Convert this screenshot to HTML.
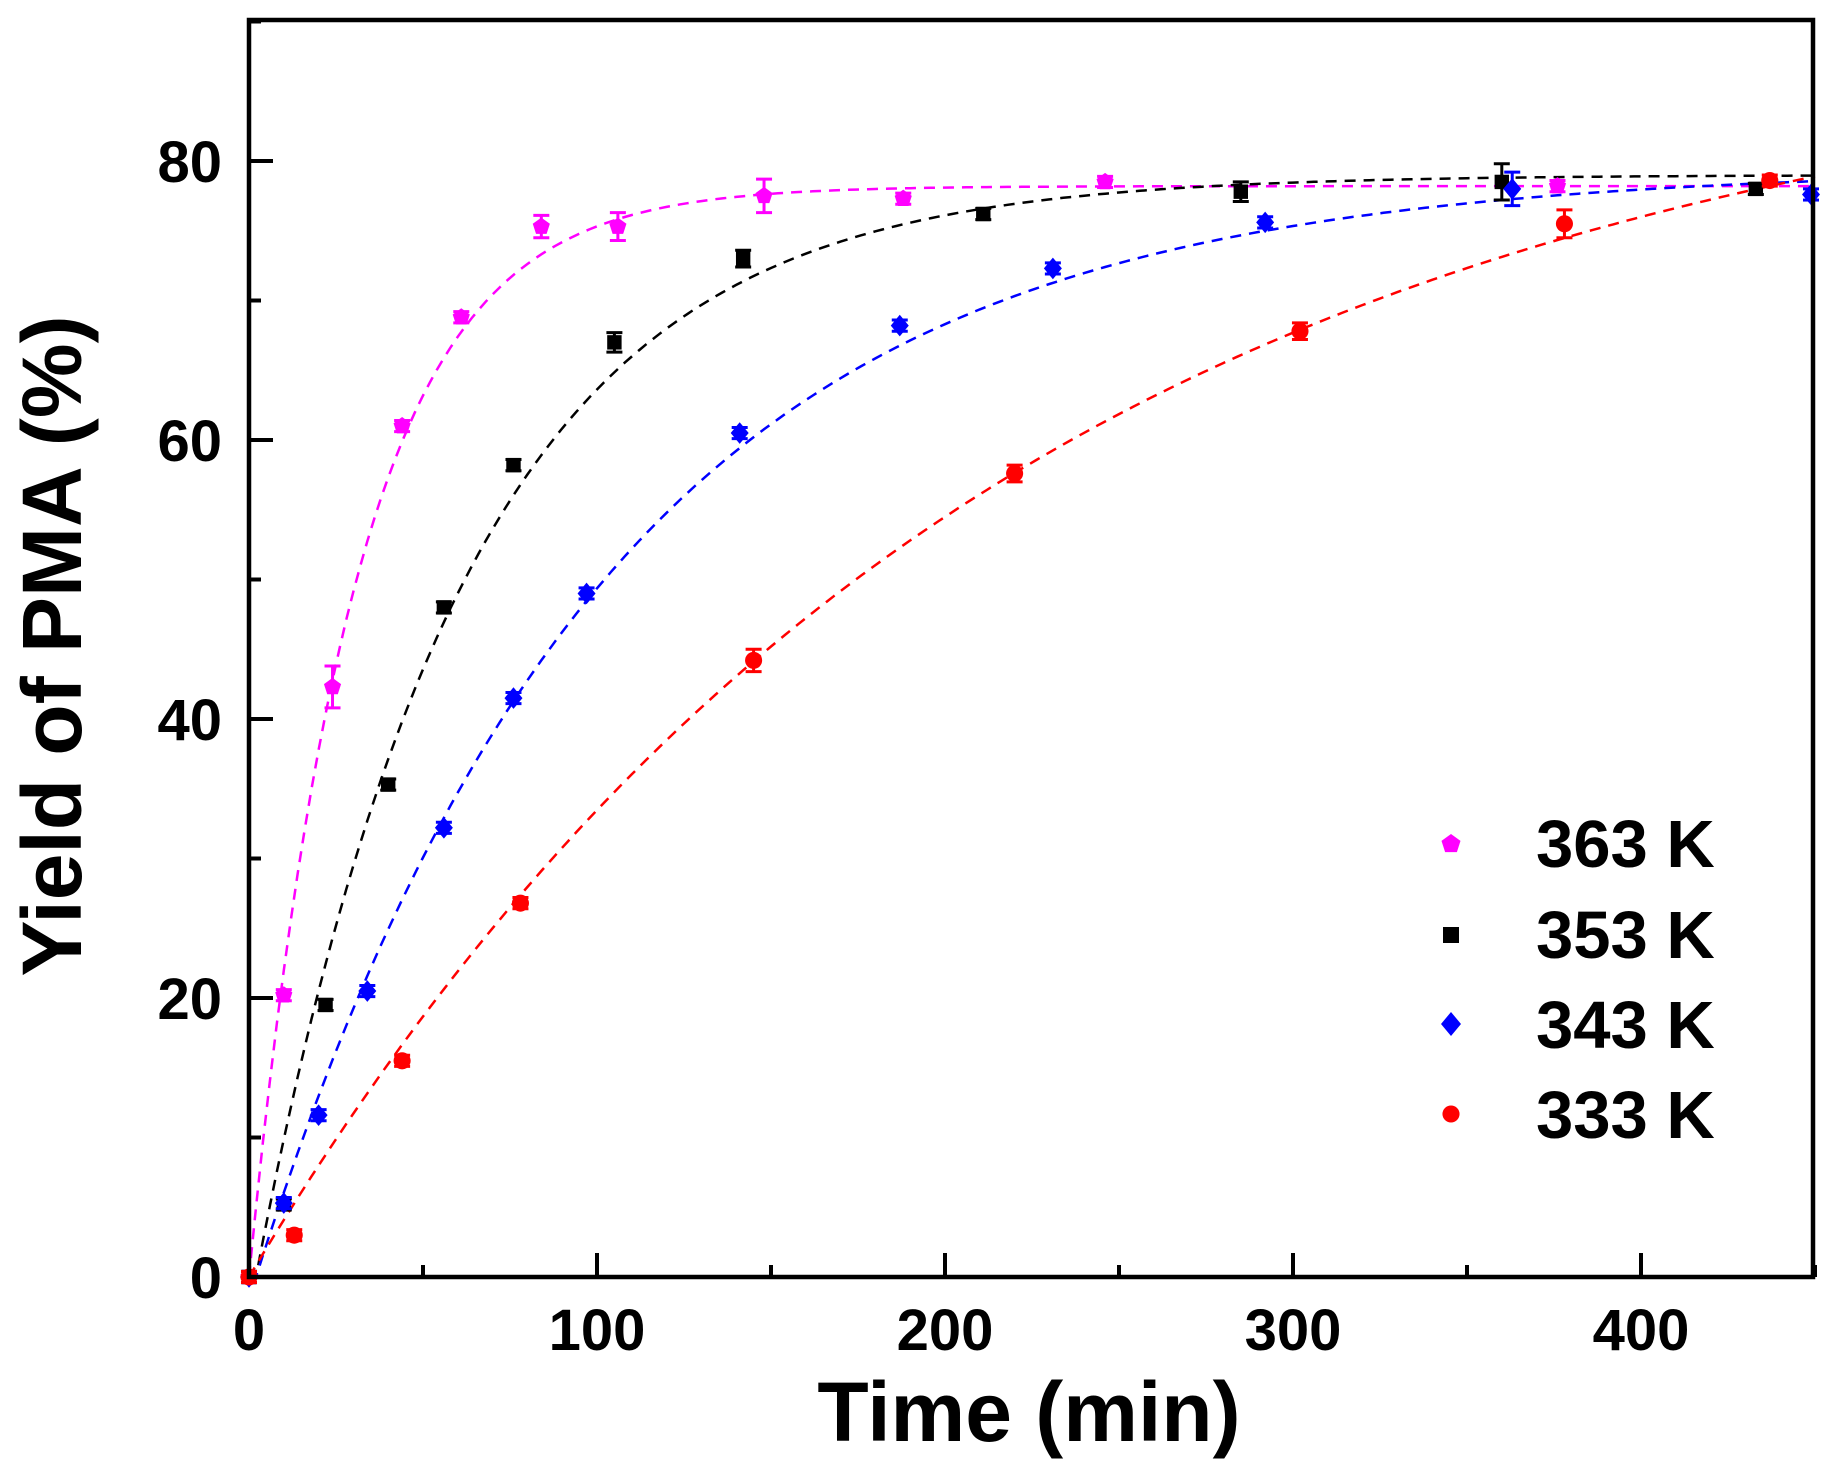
<!DOCTYPE html>
<html><head><meta charset="utf-8"><style>
html,body{margin:0;padding:0;background:#fff;}
svg{display:block;font-family:"Liberation Sans",Arial,sans-serif;font-weight:bold;}
</style></head><body>
<svg id="s" width="1825" height="1472" viewBox="0 0 1825 1472" xmlns="http://www.w3.org/2000/svg">
<rect width="1825" height="1472" fill="#fff"/>
<g id="curves"></g>
<g id="pts"></g>
<rect x="249" y="20" width="1564" height="1257" fill="none" stroke="#000" stroke-width="4.5"/>
<g id="ticks" stroke="#000" stroke-width="4"></g>
<g font-size="58" text-anchor="end" fill="#000">
<text x="222" y="1298">0</text>
<text x="222" y="1019">20</text>
<text x="222" y="740">40</text>
<text x="222" y="461">60</text>
<text x="222" y="182">80</text>
</g>
<g font-size="58" text-anchor="middle" fill="#000">
<text x="249" y="1350">0</text>
<text x="597" y="1350">100</text>
<text x="945" y="1350">200</text>
<text x="1293" y="1350">300</text>
<text x="1641" y="1350">400</text>
</g>
<text x="1029" y="1441" font-size="84" text-anchor="middle">Time (min)</text>
<text transform="translate(81,646) rotate(-90)" font-size="84" text-anchor="middle">Yield of PMA (%)</text>
<g font-size="67" fill="#000">
<text x="1536" y="867">363 K</text>
<text x="1536" y="958">353 K</text>
<text x="1536" y="1048">343 K</text>
<text x="1536" y="1138">333 K</text>
</g>
<g id="leg"></g>
</svg>
<script>
const X=t=>249+t*3.48, Y=v=>1277-v*13.95;
const NS="http://www.w3.org/2000/svg";
function el(p,tag,a){const e=document.createElementNS(NS,tag);for(const k in a)e.setAttribute(k,a[k]);p.appendChild(e);return e;}
const tk=document.getElementById('ticks');
for(let v=0;v<=90;v+=10){if(v==0)continue;const L=v%20==0?24:12;el(tk,'line',{x1:249,x2:249+L,y1:Y(v),y2:Y(v)});}
for(let t=50;t<=450;t+=50){const L=t%100==0?24:12;el(tk,'line',{x1:X(t),x2:X(t),y1:1277,y2:1277-L});}
const series=[
 {c:'#ff00ff',m:'pent',A:78.2,k:0.033,t0:0,d:[[0,0],[10,20.2],[24,42.3],[44,61],[61,68.8],[84,75.3],[106,75.3],[148,77.5],[188,77.3],[246,78.5],[376,78.2]],e:{24:1.5,84:0.8,106:1,148:1.2}},
 {c:'#000',m:'sq',A:79,k:0.0167,t0:2,d:[[0,0],[10,5.2],[22,19.5],[40,35.3],[56,48],[76,58.2],[105,67],[142,73],[211,76.2],[285,77.8],[360,78.5],[433,78]],e:{360:1.3,285:0.7,105:0.7,142:0.6}},
 {c:'#0000ff',m:'dia',A:79.5,k:0.0099,t0:2,d:[[0,0],[10,5.3],[20,11.6],[34,20.5],[56,32.2],[76,41.5],[97,49],[141,60.5],[187,68.2],[231,72.3],[292,75.6],[363,78],[450,77.6]],e:{363:1.2}},
 {c:'#ff0000',m:'circ',A:90,k:0.00465,t0:0,d:[[0,0],[13,3],[44,15.5],[78,26.8],[145,44.2],[220,57.6],[302,67.8],[378,75.5],[437,78.6]],e:{378:1,145:0.8,220:0.6,302:0.6}}
];
const cg=document.getElementById('curves'),pg=document.getElementById('pts');
function marker(g,m,x,y,c,r){
 if(m=='sq')el(g,'rect',{x:x-r*0.8,y:y-r*0.8,width:r*1.6,height:r*1.6,fill:c});
 else if(m=='dia')el(g,'polygon',{points:`${x},${y-r*1.2} ${x+r},${y} ${x},${y+r*1.2} ${x-r},${y}`,fill:c});
 else if(m=='circ')el(g,'circle',{cx:x,cy:y,r:r*0.95,fill:c});
 else{let p=[];for(let i=0;i<5;i++){const a=-Math.PI/2+i*2*Math.PI/5;p.push((x+r*Math.cos(a))+','+(y+r*Math.sin(a)));}el(g,'polygon',{points:p.join(' '),fill:c});}
}
for(const s of series){
 let d='';for(let t=0;t<=450;t+=2){const v=t<s.t0?0:s.A*(1-Math.exp(-s.k*(t-s.t0)));d+=(t?'L':'M')+X(t).toFixed(1)+','+Y(v).toFixed(1);}
 el(cg,'path',{d:d,fill:'none',stroke:s.c,'stroke-width':2.5,'stroke-dasharray':'11,8'});
 for(const [t,v] of s.d){
  const x=Math.min(X(t),1811),y=Y(v);
  const e=s.e[t]||0.4;
  el(pg,'line',{x1:x,x2:x,y1:Y(v+e),y2:Y(v-e),stroke:s.c,'stroke-width':3});
  el(pg,'line',{x1:x-8,x2:x+8,y1:Y(v+e),y2:Y(v+e),stroke:s.c,'stroke-width':3});
  el(pg,'line',{x1:x-8,x2:x+8,y1:Y(v-e),y2:Y(v-e),stroke:s.c,'stroke-width':3});
  marker(pg,s.m,x,y,s.c,9);
 }
}
const lg=document.getElementById('leg');
marker(lg,'pent',1451,844,'#ff00ff',10);
marker(lg,'sq',1451,935,'#000',10);
marker(lg,'dia',1451,1024,'#0000ff',10);
marker(lg,'circ',1451,1114,'#ff0000',9);
</script>
</body></html>
